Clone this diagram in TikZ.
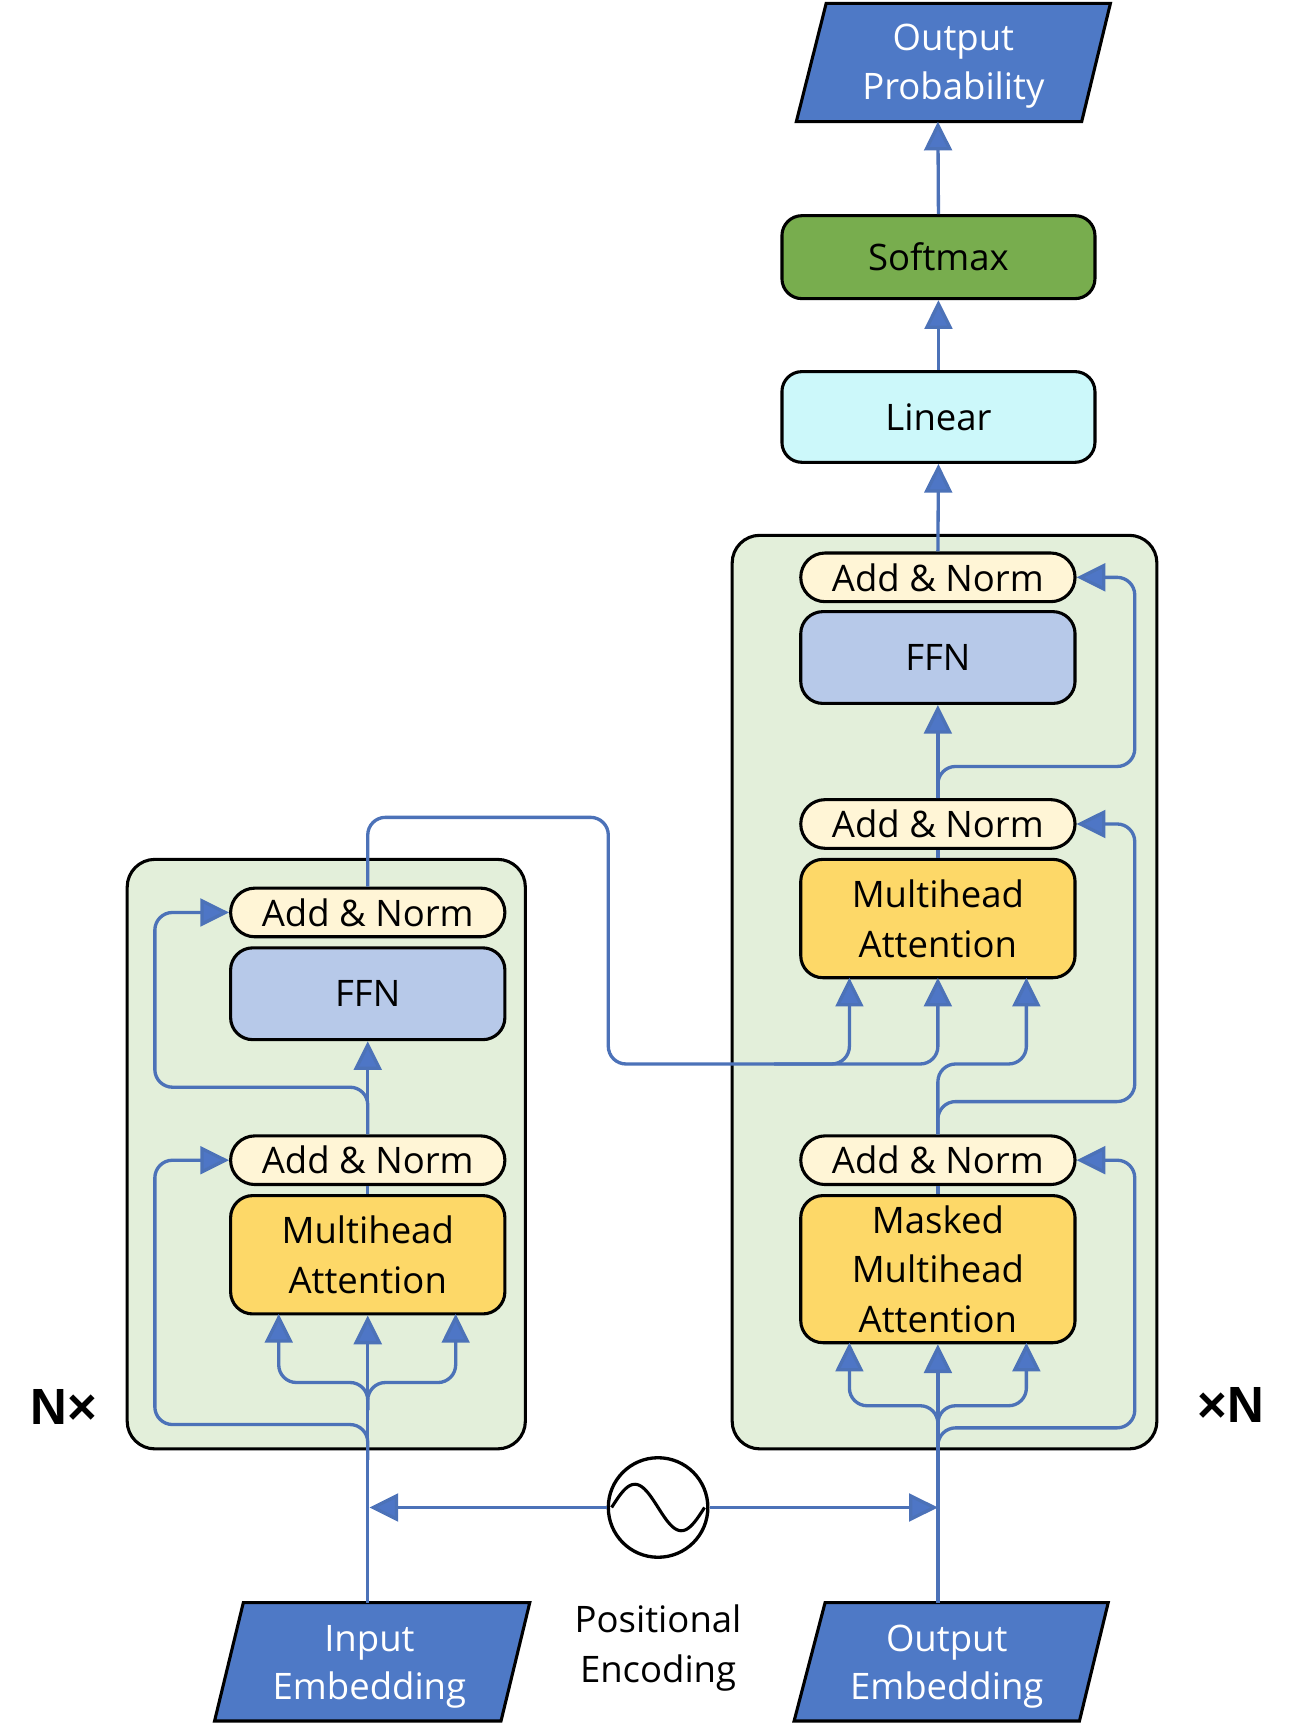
\documentclass[tikz,border=0pt]{standalone}
\usepackage{fontspec}
\setmainfont{Open Sans}
\newfontfamily\labfont{Liberation Sans}
\usetikzlibrary{arrows.meta}
\definecolor{linec}{HTML}{4C72B8}
\definecolor{headc}{HTML}{4E76C6}
\definecolor{parac}{HTML}{4E79C6}
\definecolor{softc}{HTML}{78AD4E}
\definecolor{linc}{HTML}{CCF8FA}
\definecolor{ffnc}{HTML}{B7C9E9}
\definecolor{mhac}{HTML}{FDD868}
\definecolor{anc}{HTML}{FFF5D6}
\definecolor{boxc}{HTML}{E3EFDA}
\tikzset{
  txt/.style={font=\fontsize{33}{44}\selectfont, align=center, inner sep=0pt},
  blk/.style={txt, draw=black, line width=2.8pt, minimum width=248pt},
  addnorm/.style={blk, fill=anc, minimum height=44pt, rounded corners=22pt},
  ffnbox/.style={blk, fill=ffnc, minimum height=83pt, rounded corners=20pt},
  mhabox/.style={blk, fill=mhac, rounded corners=20pt, font=\fontsize{33}{45}\selectfont},
  topbox/.style={blk, minimum width=283pt, rounded corners=18pt},
  stack/.style={draw=black, line width=2.8pt, fill=boxc, rounded corners=25pt, inner sep=0pt},
  para/.style={draw=black, line width=2.8pt, fill=parac},
  conn/.style={draw=linec, line width=3pt, rounded corners=16pt},
  arr/.style={conn, -{Triangle[width=25pt,length=26pt,fill=headc]}},
}
\begin{document}
\begin{tikzpicture}[x=1pt,y=-1pt]
\useasboundingbox (0,0) rectangle (1172,1566);
% stacks
\node[stack, minimum width=360pt, minimum height=533pt] (ebox) at (295,1043.5) {};
\node[stack, minimum width=384pt, minimum height=826pt] (dbox) at (854,897) {};
% top
\draw[para] (747,3) -- (1004,3) -- (978,110) -- (720,110) -- cycle;
\node[txt, text=white] (outprob) at (862,60) {Output\\Probability};
\coordinate (outprobbot) at (848,110);
\node[topbox, fill=softc, minimum height=75pt] (softmax) at (848.5,232.5) {Softmax};
\node[topbox, fill=linc, minimum height=82pt] (linear) at (848.5,377) {Linear};
% decoder
\node[addnorm] (dan3) at (848,522) {Add \& Norm};
\node[ffnbox] (dffn) at (848,594.5) {FFN};
\node[addnorm] (dan2) at (848,745) {Add \& Norm};
\node[mhabox, minimum height=107pt] (dmha) at (848,830.5) {Multihead\\Attention};
\node[addnorm] (dan1) at (848,1049) {Add \& Norm};
\node[mhabox, minimum height=133pt] (dmmha) at (848,1147.5) {Masked\\Multihead\\Attention};
% encoder
\node[addnorm] (ean2) at (332.5,825) {Add \& Norm};
\node[ffnbox] (effn) at (332.5,898.5) {FFN};
\node[addnorm] (ean1) at (332.5,1049) {Add \& Norm};
\node[mhabox, minimum height=107pt] (emha) at (332.5,1134.5) {Multihead\\Attention};
% embeddings
\draw[para] (220,1449) -- (479,1449) -- (453,1556) -- (194,1556) -- cycle;
\node[txt, text=white] (inemb) at (334,1507) {Input\\Embedding};
\coordinate (inembtop) at (332.5,1449);
\draw[para] (746,1449) -- (1002,1449) -- (976,1556) -- (718,1556) -- cycle;
\node[txt, text=white] (outemb) at (856,1507) {Output\\Embedding};
\coordinate (outembtop) at (848,1449);
% positional encoding
\node[circle, draw=black, line width=3pt, minimum size=90pt, inner sep=0pt] (pe) at (595,1363) {};
\draw[line width=2.8pt] plot[domain=-42:42, samples=60, smooth] ({595+\x}, {1363+21*sin(4.2857*\x)});
\node[txt, font=\fontsize{33}{45}\selectfont] (pelab) at (595,1490) {Positional\\Encoding};
\node[font=\labfont\bfseries\fontsize{46}{46}\selectfont, inner sep=0pt] (nl) at (58,1272) {N×};
\node[font=\labfont\bfseries\fontsize{46}{46}\selectfont, inner sep=0pt] (nr) at (1113,1270) {×N};
% ---- connectors: top
\draw[arr] (softmax.north) -- (outprobbot);
\draw[arr] (linear.north) -- (softmax.south);
\draw[arr] (dan3.north) -- (linear.south);
% decoder upper
\draw[arr] (dan2.north) -- (dffn.south);
\draw[arr] (dan2.north) -- (848,693) -- (1026,693) -- (1026,522) -- (dan3.east);
\draw[conn] (dmha.north) -- (dan2.south);
% decoder middle
\draw[arr] (dan1.north) -- (848,996) -- (1026,996) -- (1026,745) -- (dan2.east);
\draw[arr] (dan1.north) -- (848,962) -- (928,962) -- (928,884);
% encoder output into decoder attention
\draw[arr] (ean2.north) -- (332.5,739) -- (550,739) -- (550,962) -- (848,962) -- (848,884);
\draw[arr] (700,962) -- (768,962) -- (768,884);
% decoder lower
\draw[arr] (outembtop) -- (dmmha.south);
\draw[arr] (848,1300) -- (848,1271) -- (768,1271) -- (768,1214);
\draw[arr] (848,1300) -- (848,1271) -- (928,1271) -- (928,1214);
\draw[arr] (848,1320) -- (848,1291) -- (1026,1291) -- (1026,1049) -- (dan1.east);
\draw[conn] (dmmha.north) -- (dan1.south);
% encoder upper
\draw[arr] (ean1.north) -- (effn.south);
\draw[arr] (ean1.north) -- (332.5,983) -- (140,983) -- (140,825) -- (ean2.west);
\draw[conn] (emha.north) -- (ean1.south);
% encoder lower
\draw[arr] (inembtop) -- (emha.south);
\draw[arr] (332.5,1275) -- (332.5,1250) -- (252,1250) -- (252,1188);
\draw[arr] (332.5,1275) -- (332.5,1250) -- (412,1250) -- (412,1188);
\draw[arr] (332.5,1320) -- (332.5,1288) -- (140,1288) -- (140,1049) -- (ean1.west);
% positional arrows
\draw[arr] (pe.west) -- (334,1363);
\draw[arr] (pe.east) -- (848,1363);
\end{tikzpicture}
\end{document}
